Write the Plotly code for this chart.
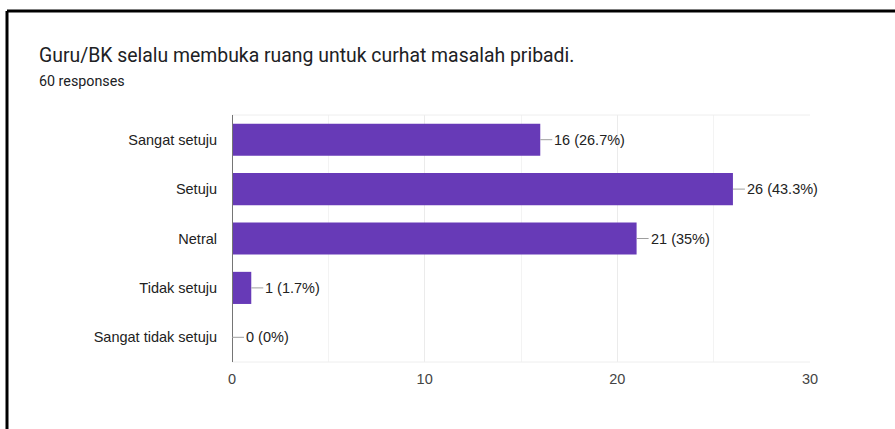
import plotly.graph_objects as go

categories = ["Sangat setuju", "Setuju", "Netral", "Tidak setuju", "Sangat tidak setuju"]
counts = [16, 26, 21, 1, 0]
percent_labels = ["26.7%", "43.3%", "35%", "1.7%", "0%"]
x_ticks = [0, 10, 20, 30]

title = "Guru/BK selalu membuka ruang untuk curhat masalah pribadi."
subtitle = "60 responses"

W, H = 895, 429
L, R, T, B = 232, 85, 115, 67
pw, ph = W - L - R, H - T - B


def px_x(p):
    return (p - L) / pw


def px_y(p):
    return 1 - (p - T) / ph


fig = go.Figure()
fig.add_trace(go.Bar(x=counts, y=categories, orientation="h",
                     marker=dict(color="#673ab7", line=dict(width=0)),
                     hoverinfo="skip"))

# value labels with short connector lines
for c, cat, pct in zip(counts, categories, percent_labels):
    fig.add_annotation(x=c, y=cat, xref="x", yref="y", text=f"{c} ({pct})",
                       showarrow=True, ax=12, ay=0, arrowhead=0, arrowwidth=1,
                       arrowcolor="#9e9e9e", xanchor="left", standoff=0,
                       font=dict(family="Liberation Sans, Arial", size=14.5, color="#222222"))

fig.add_annotation(x=px_x(37), y=px_y(55.5), xref="paper", yref="paper", text=title,
                   showarrow=False, xanchor="left", yanchor="middle",
                   font=dict(family="Roboto", size=19.4, color="#202124"))
fig.add_annotation(x=px_x(37), y=px_y(80.5), xref="paper", yref="paper", text=subtitle,
                   showarrow=False, xanchor="left", yanchor="middle",
                   font=dict(family="Roboto", size=14.3, color="#202124"))

# plot frame lines (top / bottom faint)
fig.add_shape(type="line", xref="paper", yref="paper", x0=0, x1=1, y0=1, y1=1,
              line=dict(color="#eeeeee", width=1))
fig.add_shape(type="line", xref="paper", yref="paper", x0=0, x1=1, y0=0, y1=0,
              line=dict(color="#eeeeee", width=1))

# screenshot border (black, left and top)
fig.add_shape(type="line", xref="paper", yref="paper", x0=px_x(7), x1=px_x(W + 5),
              y0=px_y(11), y1=px_y(11), line=dict(color="black", width=3))
fig.add_shape(type="line", xref="paper", yref="paper", x0=px_x(7), x1=px_x(7),
              y0=px_y(11), y1=px_y(H + 5), line=dict(color="black", width=3))

fig.update_layout(
    width=W, height=H,
    margin=dict(l=L, r=R, t=T, b=B, pad=0),
    paper_bgcolor="white", plot_bgcolor="white",
    showlegend=False, bargap=0.35,
    font=dict(family="Liberation Sans, Arial", size=14.5, color="#222222"),
    xaxis=dict(range=[0, 30], tickvals=x_ticks, showgrid=True, gridcolor="#ebebeb",
               gridwidth=1, zeroline=False, showline=False, ticks="",
               ticklabelstandoff=6,
               minor=dict(tickvals=[5, 15, 25], showgrid=True, gridcolor="#f3f3f3", ticks=""),
               tickfont=dict(size=14.5, color="#444444")),
    yaxis=dict(autorange="reversed", showgrid=False, zeroline=False,
               showline=False, ticks="", ticklabelstandoff=14,
               tickfont=dict(size=14.5, color="#222222")),
)

# dark axis line at zero
fig.add_shape(type="line", xref="x", yref="paper", x0=0, x1=0, y0=0, y1=1,
              line=dict(color="#757575", width=2))

# the page is photographed as-is: drop the default body margin so the
# figure sits at the window origin
fig.write_html("out.html", config={"displayModeBar": False},
               post_script="document.body.style.margin='0';")
